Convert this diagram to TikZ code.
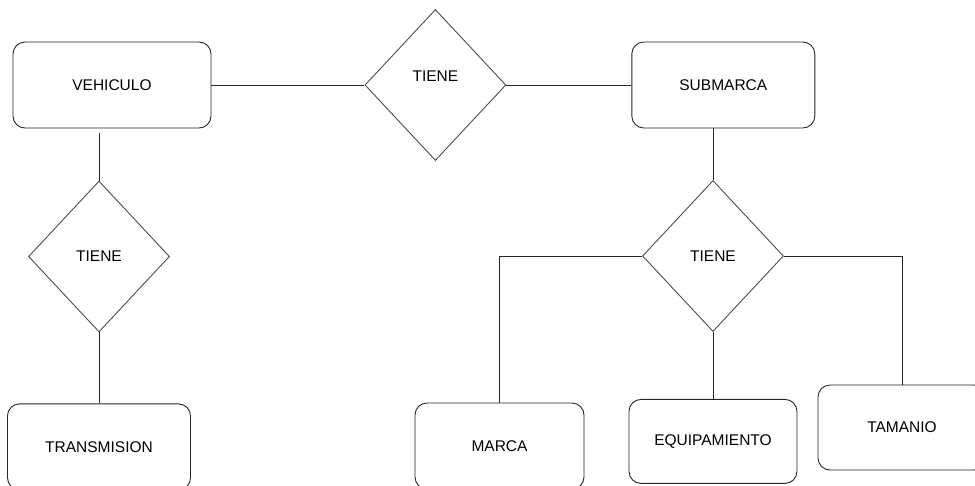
\documentclass[tikz,border=0pt]{standalone}
\usepackage{fontspec}
\setmainfont{Liberation Sans}
\usetikzlibrary{positioning,shapes.geometric}

\begin{document}
\begin{tikzpicture}[
    x=1pt, y=-1pt,
    entity/.style={draw=black!85, line width=0.9pt, rounded corners=12pt, minimum width=#1, minimum height=86pt, inner sep=0pt, font=\fontsize{15.5}{18}\selectfont},
    entity/.default=183pt,
    rel/.style={draw=black!70, line width=0.9pt, diamond, minimum width=141pt, minimum height=151pt, inner sep=0pt, font=\fontsize{15.5}{18}\selectfont},
    link/.style={draw=black!85, line width=0.9pt},
]
\useasboundingbox (0,0) rectangle (975,485);
\clip (0,0) rectangle (975,485);

% ── Top row ──
\node[entity=198pt] (veh) at (112,85) {VEHICULO};
\node[rel, text height=11pt, text depth=18pt, right=153pt of veh] (tiene1) {TIENE};
\node[entity, right=125pt of tiene1] (sub) {SUBMARCA};

% ── Left branch ──
\node[rel] (tiene2) at (99,256.5) {TIENE};
\node[entity, below=71pt of tiene2] (trans) {TRANSMISION};

% ── Right branch ──
\node[rel] (tiene3) at (713,256) {TIENE};
\node[entity=169pt] (marca) at (499.5,446) {MARCA};
\node[entity=168pt, minimum height=84pt, below=67pt of tiene3] (equip) {EQUIPAMIENTO};
\node[entity=168pt, minimum height=85pt] (tam) at (902,427.5) {TAMANIO};

% ── Lines ──
\draw[link] (veh.east) -- (tiene1.west);
\draw[link] (tiene1.east) -- (sub.west);
\draw[link, shorten <=5pt] (veh.south -| tiene2.north) -- (tiene2.north);
\draw[link] (tiene2.south) -- (trans.north);
\draw[link] (sub.south -| tiene3.north) -- (tiene3.north);
\draw[link] (tiene3.west) -| (marca.north);
\draw[link] (tiene3.south) -- (equip.north);
\draw[link] (tiene3.east) -| (tam.north);

\end{tikzpicture}
\end{document}
